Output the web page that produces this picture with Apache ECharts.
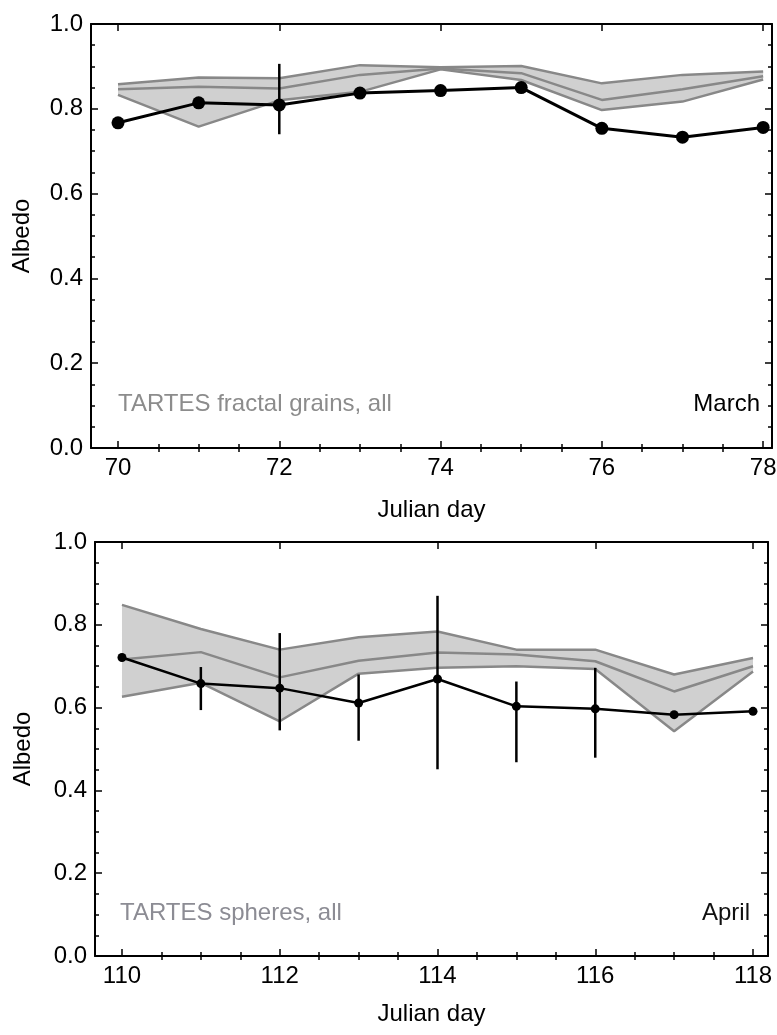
<!DOCTYPE html>
<html>
<head>
<meta charset="utf-8">
<title>Albedo – March and April</title>
<script src="https://cdn.jsdelivr.net/npm/echarts@6/dist/echarts.min.js"></script>
<style>
  html, body { margin: 0; padding: 0; background: #fff; }
  #chart { width: 777px; height: 1035px; }
</style>
</head>
<body>
<div id="chart"></div>
<script>
// ---- March (fractal grains) ----
const marchDays = [70, 71, 72, 73, 74, 75, 76, 77, 78];
const marchAlbedo = [0.767, 0.814, 0.809, 0.837, 0.843, 0.850, 0.754, 0.733, 0.756];
const marchErrLow = [null, null, 0.740, null, null, null, null, null, null];
const marchErrHigh = [null, null, 0.906, null, null, null, null, null, null];
const marchUpper = [0.858, 0.874, 0.872, 0.903, 0.898, 0.901, 0.860, 0.880, 0.888];
const marchMiddle = [0.846, 0.852, 0.848, 0.880, 0.895, 0.884, 0.821, 0.846, 0.877];
const marchLower = [0.833, 0.758, 0.820, 0.840, 0.893, 0.868, 0.797, 0.817, 0.869];

// ---- April (spheres) ----
const aprilDays = [110, 111, 112, 113, 114, 115, 116, 117, 118];
const aprilAlbedo = [0.721, 0.658, 0.647, 0.611, 0.669, 0.603, 0.597, 0.583, 0.591];
const aprilErrLow = [null, 0.594, 0.545, 0.520, 0.451, 0.468, 0.479, null, null];
const aprilErrHigh = [null, 0.698, 0.780, 0.680, 0.870, 0.663, 0.696, null, null];
const aprilUpper = [0.848, 0.790, 0.740, 0.770, 0.784, 0.740, 0.740, 0.680, 0.720];
const aprilMiddle = [0.716, 0.734, 0.673, 0.713, 0.733, 0.728, 0.712, 0.639, 0.700];
const aprilLower = [0.626, 0.660, 0.567, 0.682, 0.696, 0.700, 0.693, 0.543, 0.687];

// ---- tick labels ----
const marchTicks = [70, 72, 74, 76, 78];
const aprilTicks = [110, 112, 114, 116, 118];
const albedoTicks = [0, 0.2, 0.4, 0.6, 0.8, 1.0];

const FONT = 'Liberation Sans, Arial, sans-serif';
const BAND_LINE = '#888888';
const BAND_FILL = '#d0d0d0';

function halfSteps(from, to, majors) {
  const out = [];
  for (let v = from; v <= to + 1e-9; v += 0.5) {
    if (!majors.includes(v)) out.push(v);
  }
  return out;
}

function pairs(xs, ys) { return xs.map((x, i) => [x, ys[i]]); }

// x axes for one panel: bottom (labels + major ticks), bottom minor ticks,
// top frame with major ticks, top minor ticks
function xAxesFor(grid, min, max, majors, title, nameGap) {
  const minors = halfSteps(majors[0], majors[majors.length - 1], majors);
  const frame = { show: true, onZero: false, lineStyle: { color: '#000', width: 2 } };
  const base = { type: 'value', gridIndex: grid, min, max, splitLine: { show: false } };
  return [
    Object.assign({}, base, {
      position: 'bottom', axisLine: frame,
      axisTick: { show: true, inside: true, length: 7, customValues: majors, lineStyle: { color: '#000', width: 1.5 } },
      axisLabel: { show: true, customValues: majors, fontSize: 24, color: '#000', fontFamily: FONT, margin: 8 },
      name: title, nameLocation: 'middle', nameGap,
      nameTextStyle: { fontSize: 24, color: '#000', fontFamily: FONT }
    }),
    Object.assign({}, base, {
      position: 'bottom', axisLine: { show: false },
      axisTick: { show: true, inside: true, length: 4, customValues: minors, lineStyle: { color: '#000', width: 1.5 } },
      axisLabel: { show: false }
    }),
    Object.assign({}, base, {
      position: 'top', axisLine: frame,
      axisTick: { show: true, inside: true, length: 7, customValues: majors, lineStyle: { color: '#000', width: 1.5 } },
      axisLabel: { show: false }
    }),
    Object.assign({}, base, {
      position: 'top', axisLine: { show: false },
      axisTick: { show: true, inside: true, length: 4, customValues: minors, lineStyle: { color: '#000', width: 1.5 } },
      axisLabel: { show: false }
    })
  ];
}

function yAxesFor(grid, nameGap) {
  const frame = { show: true, onZero: false, lineStyle: { color: '#000', width: 2 } };
  const base = {
    type: 'value', gridIndex: grid, min: 0, max: 1, interval: 0.2,
    splitLine: { show: false },
    axisTick: { show: true, inside: true, length: 7, lineStyle: { color: '#000', width: 1.5 } },
    minorTick: { show: true, splitNumber: 4, length: 4, lineStyle: { color: '#000', width: 1.5 } },
    axisLine: frame
  };
  return [
    Object.assign({}, base, {
      position: 'left',
      axisLabel: { show: true, customValues: albedoTicks, fontSize: 24, color: '#000', fontFamily: FONT, margin: 8,
                   formatter: v => v.toFixed(1) },
      name: 'Albedo', nameLocation: 'middle', nameGap, nameRotate: 90,
      nameTextStyle: { fontSize: 24, color: '#000', fontFamily: FONT }
    }),
    Object.assign({}, base, { position: 'right', axisLabel: { show: false } })
  ];
}

// Error bars drawn as vertical segments through the library's coordinate system
function errorBars(xIdx, yIdx, days, lo, hi, width) {
  const data = [];
  days.forEach((d, i) => { if (lo[i] != null && hi[i] != null) data.push([d, lo[i], hi[i]]); });
  return {
    type: 'custom', xAxisIndex: xIdx, yAxisIndex: yIdx, z: 4, silent: true,
    data,
    renderItem(params, api) {
      const a = api.coord([api.value(0), api.value(1)]);
      const b = api.coord([api.value(0), api.value(2)]);
      return { type: 'line', shape: { x1: a[0], y1: a[1], x2: b[0], y2: b[1] },
               style: { stroke: '#000', lineWidth: width } };
    }
  };
}

// Shaded model range (polygon between lower and upper) plus its three lines
function bandSeries(xIdx, yIdx, days, upper, middle, lower) {
  const fill = {
    type: 'custom', xAxisIndex: xIdx, yAxisIndex: yIdx, z: 1, silent: true,
    data: [[days[0], lower[0]]],
    renderItem(params, api) {
      const pts = [];
      days.forEach((d, i) => pts.push(api.coord([d, lower[i]])));
      for (let i = days.length - 1; i >= 0; i--) pts.push(api.coord([days[i], upper[i]]));
      return { type: 'polygon', shape: { points: pts }, style: { fill: BAND_FILL, stroke: null } };
    }
  };
  const common = { type: 'line', xAxisIndex: xIdx, yAxisIndex: yIdx, symbol: 'none', silent: true, z: 2 };
  const lineStyle = { color: BAND_LINE, width: 2.5 };
  return [
    fill,
    Object.assign({}, common, { data: pairs(days, upper), lineStyle }),
    Object.assign({}, common, { data: pairs(days, middle), lineStyle }),
    Object.assign({}, common, { data: pairs(days, lower), lineStyle })
  ];
}

function obsSeries(xIdx, yIdx, days, vals, width, size) {
  return {
    type: 'line', xAxisIndex: xIdx, yAxisIndex: yIdx, z: 5, silent: true,
    data: pairs(days, vals),
    symbol: 'circle', symbolSize: size, showSymbol: true,
    lineStyle: { color: '#000', width },
    itemStyle: { color: '#000' }
  };
}

const option = {
  backgroundColor: '#fff',
  animation: false,
  grid: [
    { left: 91, top: 24, width: 681, height: 424, outerBoundsMode: 'none' },
    { left: 95, top: 542, width: 673, height: 414, outerBoundsMode: 'none' }
  ],
  xAxis: [
    ...xAxesFor(0, 69.665, 78.11, marchTicks, 'Julian day', 50),
    ...xAxesFor(1, 109.658, 118.19, aprilTicks, 'Julian day', 46)
  ],
  yAxis: [
    ...yAxesFor(0, 57),
    ...yAxesFor(1, 60)
  ],
  graphic: [
    { type: 'text', x: 118, y: 404, style: { text: 'TARTES fractal grains, all', fontSize: 24, fontFamily: FONT,
      fill: '#8c8c8c', align: 'left', verticalAlign: 'middle' } },
    { type: 'text', x: 760, y: 404, style: { text: 'March', fontSize: 24, fontFamily: FONT,
      fill: '#000', align: 'right', verticalAlign: 'middle' } },
    { type: 'text', x: 120, y: 913, style: { text: 'TARTES spheres, all', fontSize: 24, fontFamily: FONT,
      fill: '#8c8c94', align: 'left', verticalAlign: 'middle' } },
    { type: 'text', x: 750, y: 913, style: { text: 'April', fontSize: 24, fontFamily: FONT,
      fill: '#111', align: 'right', verticalAlign: 'middle' } }
  ],
  series: [
    ...bandSeries(0, 0, marchDays, marchUpper, marchMiddle, marchLower),
    errorBars(0, 0, marchDays, marchErrLow, marchErrHigh, 2.5),
    obsSeries(0, 0, marchDays, marchAlbedo, 3, 13),
    ...bandSeries(4, 2, aprilDays, aprilUpper, aprilMiddle, aprilLower),
    errorBars(4, 2, aprilDays, aprilErrLow, aprilErrHigh, 2.5),
    obsSeries(4, 2, aprilDays, aprilAlbedo, 2.5, 9)
  ]
};

const chart = echarts.init(document.getElementById('chart'), null, { renderer: 'canvas' });
chart.setOption(option);
</script>
</body>
</html>
